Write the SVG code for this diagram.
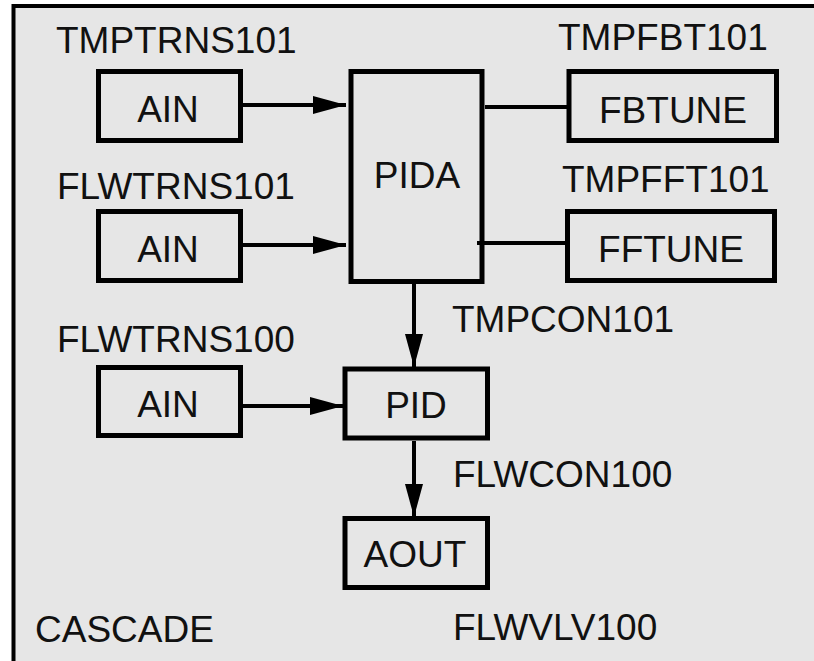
<svg xmlns="http://www.w3.org/2000/svg" width="814" height="661" viewBox="0 0 814 661">
  <defs>
    <marker id="arr" markerUnits="userSpaceOnUse" markerWidth="34" markerHeight="18" refX="33" refY="9" orient="auto">
      <path d="M0,0 L33,9 L0,18 Z" fill="#000"/>
    </marker>
    <style>
      text { font-family: "Liberation Sans", Arial, sans-serif; font-size: 37px; fill: #111; }
      .box { fill: none; stroke: #000; stroke-width: 5; }
      .c { text-anchor: middle; }
      .ln { stroke: #000; stroke-width: 4; fill: none; }
      .ar { marker-end: url(#arr); }
    </style>
  </defs>
  <rect x="0" y="0" width="814" height="661" fill="#ffffff"/>
  <rect id="frame" x="13.5" y="6" width="820" height="680" fill="#e6e6e6" stroke="#000" stroke-width="4"/>

  <g id="connectors">
    <line class="ln ar" x1="243" y1="105" x2="346" y2="105"/>
    <line class="ln ar" x1="243" y1="245" x2="346" y2="245"/>
    <line class="ln ar" x1="243" y1="406" x2="343" y2="406"/>
    <line class="ln" x1="485" y1="107" x2="567" y2="107"/>
    <line class="ln" x1="477" y1="243" x2="565" y2="243"/>
    <line class="ln ar" x1="414" y1="284" x2="414" y2="367"/>
    <line class="ln ar" x1="414" y1="441" x2="414" y2="517"/>
  </g>

  <g id="labels">
    <text x="56" y="53">TMPTRNS101</text>
    <text x="57" y="199">FLWTRNS101</text>
    <text x="57" y="352">FLWTRNS100</text>
    <text x="558" y="50">TMPFBT101</text>
    <text x="562" y="192">TMPFFT101</text>
    <text x="452" y="332">TMPCON101</text>
    <text x="453" y="487">FLWCON100</text>
    <text x="453" y="640">FLWVLV100</text>
    <text x="35" y="642">CASCADE</text>
  </g>

  <g id="ain1">
    <rect class="box" x="98.5" y="71.5" width="142" height="69"/>
    <text class="c" x="168" y="122">AIN</text>
  </g>
  <g id="ain2">
    <rect class="box" x="98.5" y="211.5" width="142" height="69"/>
    <text class="c" x="168" y="262">AIN</text>
  </g>
  <g id="ain3">
    <rect class="box" x="98.5" y="367.5" width="142" height="68"/>
    <text class="c" x="168" y="417">AIN</text>
  </g>
  <g id="pida">
    <rect class="box" x="351" y="71.5" width="131" height="210"/>
    <text class="c" x="417" y="188">PIDA</text>
  </g>
  <g id="fbtune">
    <rect class="box" x="569" y="71.5" width="207.5" height="69"/>
    <text class="c" x="673" y="123">FBTUNE</text>
  </g>
  <g id="fftune">
    <rect class="box" x="567.5" y="211.5" width="207" height="69"/>
    <text class="c" x="671" y="262">FFTUNE</text>
  </g>
  <g id="pid">
    <rect class="box" x="345" y="369" width="142.5" height="69"/>
    <text class="c" x="416" y="418">PID</text>
  </g>
  <g id="aout">
    <rect class="box" x="345" y="518.5" width="142.5" height="69"/>
    <text class="c" x="415" y="567">AOUT</text>
  </g>
</svg>
